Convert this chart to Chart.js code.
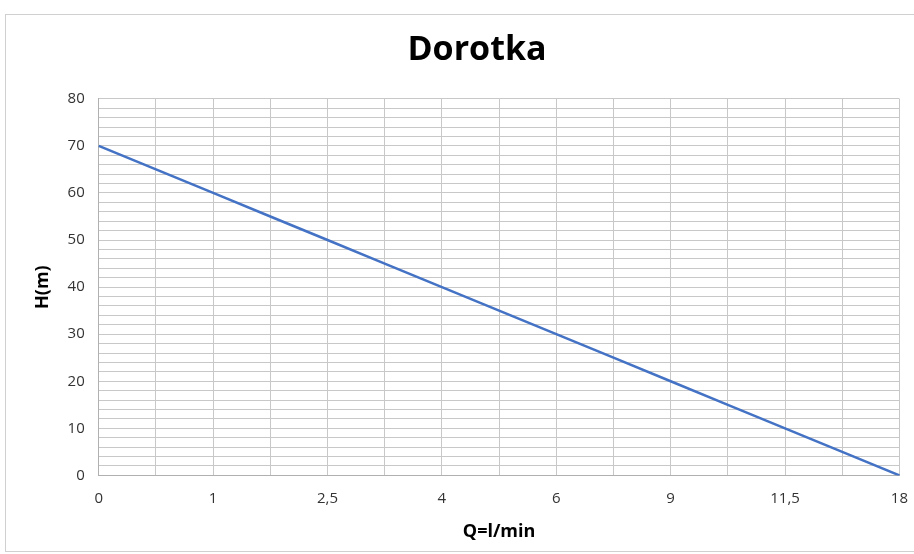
<!DOCTYPE html>
<html lang="en">
<head>
<meta charset="UTF-8">
<title>Dorotka</title>
<script src="https://cdn.jsdelivr.net/npm/chart.js"></script>
<style>
  html, body { margin: 0; padding: 0; background: #fff; }
  #wrap { position: relative; width: 914px; height: 554px; overflow: hidden; }
  #myChart { position: absolute; left: 8px; top: 0; }
  #frame { position: absolute; left: 5px; top: 14px; width: 910px; height: 538px;
           border: 1px solid #d0d0d0; box-sizing: border-box; pointer-events: none; }
</style>
</head>
<body>
<div id="wrap">
  <canvas id="myChart" width="914" height="554"></canvas>
  <div id="frame"></div>
</div>
<script>
// Q (l/min) categories, only every other one is labelled on the chart
const flowLabels = ['0', '', '1', '', '2,5', '', '4', '', '6', '', '9', '', '11,5', '', '18'];
// H (m) values
const headValues = [70, 65, 60, 55, 50, 45, 40, 35, 30, 25, 20, 15, 10, 5, 0];

const FONT = "'Open Sans', 'Noto Sans', sans-serif";

var ctx = document.getElementById('myChart').getContext('2d');
var myChart = new Chart(ctx, {
  type: 'line',
  data: {
    labels: flowLabels,
    datasets: [{
      label: 'H(m)',
      data: headValues,
      borderColor: '#4472c4',
      borderWidth: 2.5,
      pointRadius: 0,
      tension: 0,
      fill: false
    }]
  },
  options: {
    responsive: false,
    animation: false,
    layout: { padding: { left: 24, right: 0, top: 0, bottom: 7 } },
    plugins: {
      legend: { display: false },
      tooltip: { enabled: false },
      title: {
        display: true,
        text: 'Dorotka',
        color: '#000',
        font: { family: FONT, size: 34, weight: 'bold' },
        padding: { top: 30, bottom: 28 }
      }
    },
    scales: {
      x: {
        offset: false,
        grid: { color: '#c8c8c8', drawTicks: false },
        border: { color: '#b0b0b0' },
        ticks: {
          autoSkip: false, maxRotation: 0, padding: 14,
          color: '#333', font: { family: FONT, size: 15 }
        },
        title: {
          display: true, text: 'Q=l/min', color: '#000',
          font: { family: FONT, size: 18, weight: 'bold' },
          padding: { top: 0 }
        }
      },
      y: {
        min: 0, max: 80,
        grid: { color: '#c8c8c8', drawTicks: false },
        border: { color: '#b0b0b0' },
        ticks: {
          stepSize: 2, autoSkip: false, padding: 14,
          color: '#333', font: { family: FONT, size: 15 },
          callback: v => (v % 10 === 0 ? v : '')
        },
        title: {
          display: true, text: 'H(m)', color: '#000',
          font: { family: FONT, size: 18, weight: 'bold' },
          padding: { top: 0, bottom: 0 }
        }
      }
    }
  }
});
</script>
</body>
</html>
